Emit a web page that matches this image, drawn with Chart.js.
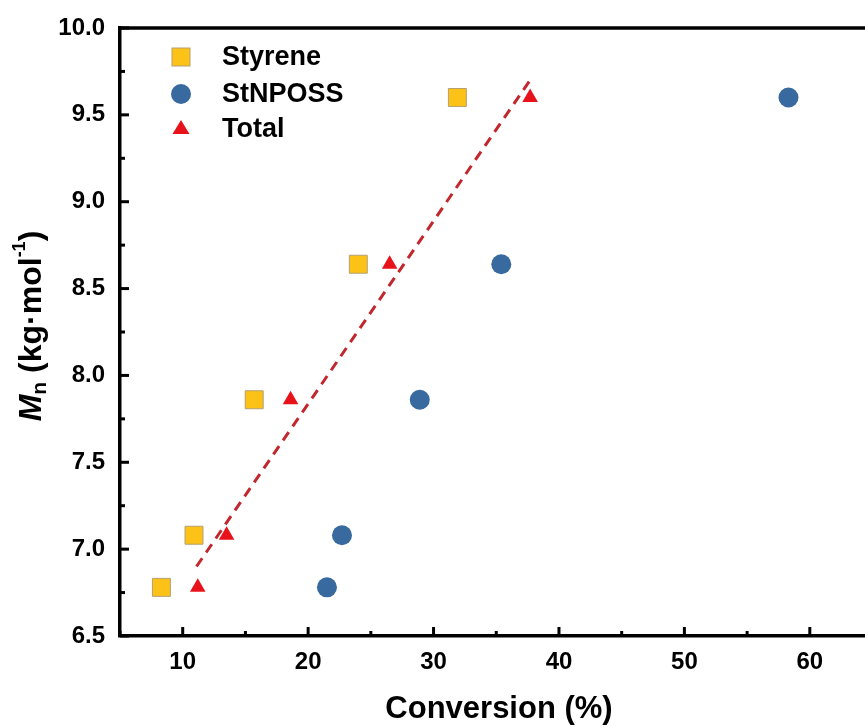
<!DOCTYPE html>
<html>
<head>
<meta charset="utf-8">
<script src="https://cdn.jsdelivr.net/npm/chart.js@4"></script>
<style>
  html, body { margin: 0; padding: 0; background: #fff; overflow: hidden; }
  #mnChart { display: block; }
</style>
</head>
<body>
<canvas id="mnChart" width="865" height="727"></canvas>
<script>
// Mn vs conversion data
const mnValues = [6.78, 7.08, 7.86, 8.64, 9.60];
const styreneConv = [8.3, 10.9, 15.7, 24.0, 31.9];
const posssConv = [21.5, 22.7, 28.9, 35.4, 58.3];
const totalConv = [11.2, 13.5, 18.6, 26.5, 37.7];
// linear fit drawn through the total conversion points
const fitConv = [11.1, 37.7];
const fitMn = [6.90, 9.70];

const xTickLabels = [10, 20, 30, 40, 50, 60];
const xMinorTicks = [5, 15, 25, 35, 45, 55];
const yTickLabels = [6.5, 7.0, 7.5, 8.0, 8.5, 9.0, 9.5, 10.0];
const yMinorTicks = [6.75, 7.25, 7.75, 8.25, 8.75, 9.25, 9.75];

const seriesNames = ["Styrene", "StNPOSS", "Total"];

const FONT = "Arial, 'Liberation Sans', sans-serif";
const yellow = "#FDC217";
const blue = "#38699F";
const red = "#E8121B";

function pts(xs, ys) {
  return xs.map((x, i) => ({ x: x, y: ys[i] }));
}

function drawMarker(ctx, style, x, y) {
  ctx.save();
  if (style === "rect") {
    ctx.fillStyle = yellow;
    ctx.strokeStyle = "#B5A070";
    ctx.lineWidth = 1;
    ctx.fillRect(x - 9, y - 9, 18, 18);
    ctx.strokeRect(x - 9, y - 9, 18, 18);
  } else if (style === "circle") {
    ctx.fillStyle = blue;
    ctx.beginPath();
    ctx.arc(x, y, 10, 0, Math.PI * 2);
    ctx.fill();
  } else {
    ctx.fillStyle = red;
    ctx.beginPath();
    ctx.moveTo(x, y - 9);
    ctx.lineTo(x + 8.5, y + 5);
    ctx.lineTo(x - 8.5, y + 5);
    ctx.closePath();
    ctx.fill();
  }
  ctx.restore();
}

const framePlugin = {
  id: "frame",
  afterDraw(chart) {
    const ctx = chart.ctx;
    const area = chart.chartArea;
    const xs = chart.scales.x;
    const ys = chart.scales.y;
    ctx.save();
    ctx.strokeStyle = "#000";
    ctx.lineCap = "butt";

    // top border
    ctx.lineWidth = 3.5;
    ctx.beginPath();
    ctx.moveTo(area.left - 1.75, area.top);
    ctx.lineTo(area.right, area.top);
    ctx.stroke();

    // inward ticks
    ctx.lineWidth = 3;
    const tick = (px, py, dx, dy) => {
      ctx.beginPath();
      ctx.moveTo(px, py);
      ctx.lineTo(px + dx, py + dy);
      ctx.stroke();
    };
    xTickLabels.forEach(v => tick(xs.getPixelForValue(v), area.bottom, 0, -9));
    xMinorTicks.forEach(v => tick(xs.getPixelForValue(v), area.bottom, 0, -5));
    yTickLabels.forEach(v => tick(area.left, ys.getPixelForValue(v), 9, 0));
    yMinorTicks.forEach(v => tick(area.left, ys.getPixelForValue(v), 5, 0));

    // legend
    const styles = ["rect", "circle", "triangle"];
    const rowsY = [57, 94, 129];
    ctx.fillStyle = "#000";
    ctx.font = "bold 27px " + FONT;
    ctx.textBaseline = "middle";
    ctx.textAlign = "left";
    seriesNames.forEach((name, i) => {
      drawMarker(ctx, styles[i], 181, rowsY[i]);
      ctx.fillText(name, 222, rowsY[i] + 1);
    });

    // x title
    ctx.font = "bold 31px " + FONT;
    ctx.textAlign = "center";
    ctx.fillText("Conversion (%)", 499, 709);

    // y title: Mn (kg·mol-1)
    ctx.translate(32, 326);
    ctx.rotate(-Math.PI / 2);
    const parts = [
      { t: "M", f: "italic bold 32px ", dy: 0 },
      { t: "n", f: "bold 21px ", dy: 8 },
      { t: " (kg\u00B7mol", f: "bold 32px ", dy: 0 },
      { t: "-1", f: "bold 18px ", dy: -12 },
      { t: ")", f: "bold 32px ", dy: 0 }
    ];
    let total = 0;
    parts.forEach(p => { ctx.font = p.f + FONT; p.w = ctx.measureText(p.t).width; total += p.w; });
    let cx = -total / 2;
    ctx.textAlign = "left";
    ctx.textBaseline = "middle";
    parts.forEach(p => {
      ctx.font = p.f + FONT;
      ctx.fillText(p.t, cx, p.dy);
      cx += p.w;
    });
    ctx.restore();
  }
};

new Chart(document.getElementById("mnChart"), {
  type: "scatter",
  data: {
    datasets: [
      {
        label: seriesNames[0],
        data: pts(styreneConv, mnValues),
        pointStyle: "rect",
        pointRadius: 12.7,
        pointBackgroundColor: yellow,
        pointBorderColor: "#B5A070",
        pointBorderWidth: 1
      },
      {
        label: seriesNames[1],
        data: pts(posssConv, mnValues),
        pointStyle: "circle",
        pointRadius: 10,
        pointBackgroundColor: blue,
        pointBorderColor: blue,
        pointBorderWidth: 0
      },
      {
        label: seriesNames[2],
        data: pts(totalConv, mnValues),
        pointStyle: "triangle",
        pointRadius: 9,
        pointBackgroundColor: red,
        pointBorderColor: red,
        pointBorderWidth: 0
      },
      {
        label: "fit",
        data: pts(fitConv, fitMn),
        showLine: true,
        borderColor: "#C1272D",
        borderWidth: 3,
        borderDash: [10, 7],
        pointRadius: 0
      }
    ]
  },
  options: {
    responsive: false,
    devicePixelRatio: 1,
    animation: false,
    layout: { autoPadding: false, padding: { left: 0, top: 28, right: 0, bottom: 0 } },
    plugins: {
      legend: { display: false },
      tooltip: { enabled: false }
    },
    scales: {
      x: {
        type: "linear",
        min: 5,
        max: 64.4,
        afterBuildTicks: s => { s.ticks = xTickLabels.map(v => ({ value: v })); },
        afterFit: s => { s.height = 91; s.paddingLeft = 0; s.paddingRight = 0; },
        grid: { display: false, drawTicks: false },
        border: { display: true, color: "#000", width: 3.5 },
        ticks: {
          color: "#000",
          padding: 12,
          maxRotation: 0,
          font: { family: FONT, size: 24, weight: "bold" },
          callback: v => String(v)
        }
      },
      y: {
        type: "linear",
        min: 6.5,
        max: 10,
        afterBuildTicks: s => { s.ticks = yTickLabels.map(v => ({ value: v })); },
        afterFit: s => { s.width = 120; s.paddingTop = 0; s.paddingBottom = 0; },
        grid: { display: false, drawTicks: false },
        border: { display: true, color: "#000", width: 3.5 },
        ticks: {
          color: "#000",
          padding: 15,
          font: { family: FONT, size: 24, weight: "bold" },
          callback: v => Number(v).toFixed(1)
        }
      }
    }
  },
  plugins: [framePlugin]
});
</script>
</body>
</html>
